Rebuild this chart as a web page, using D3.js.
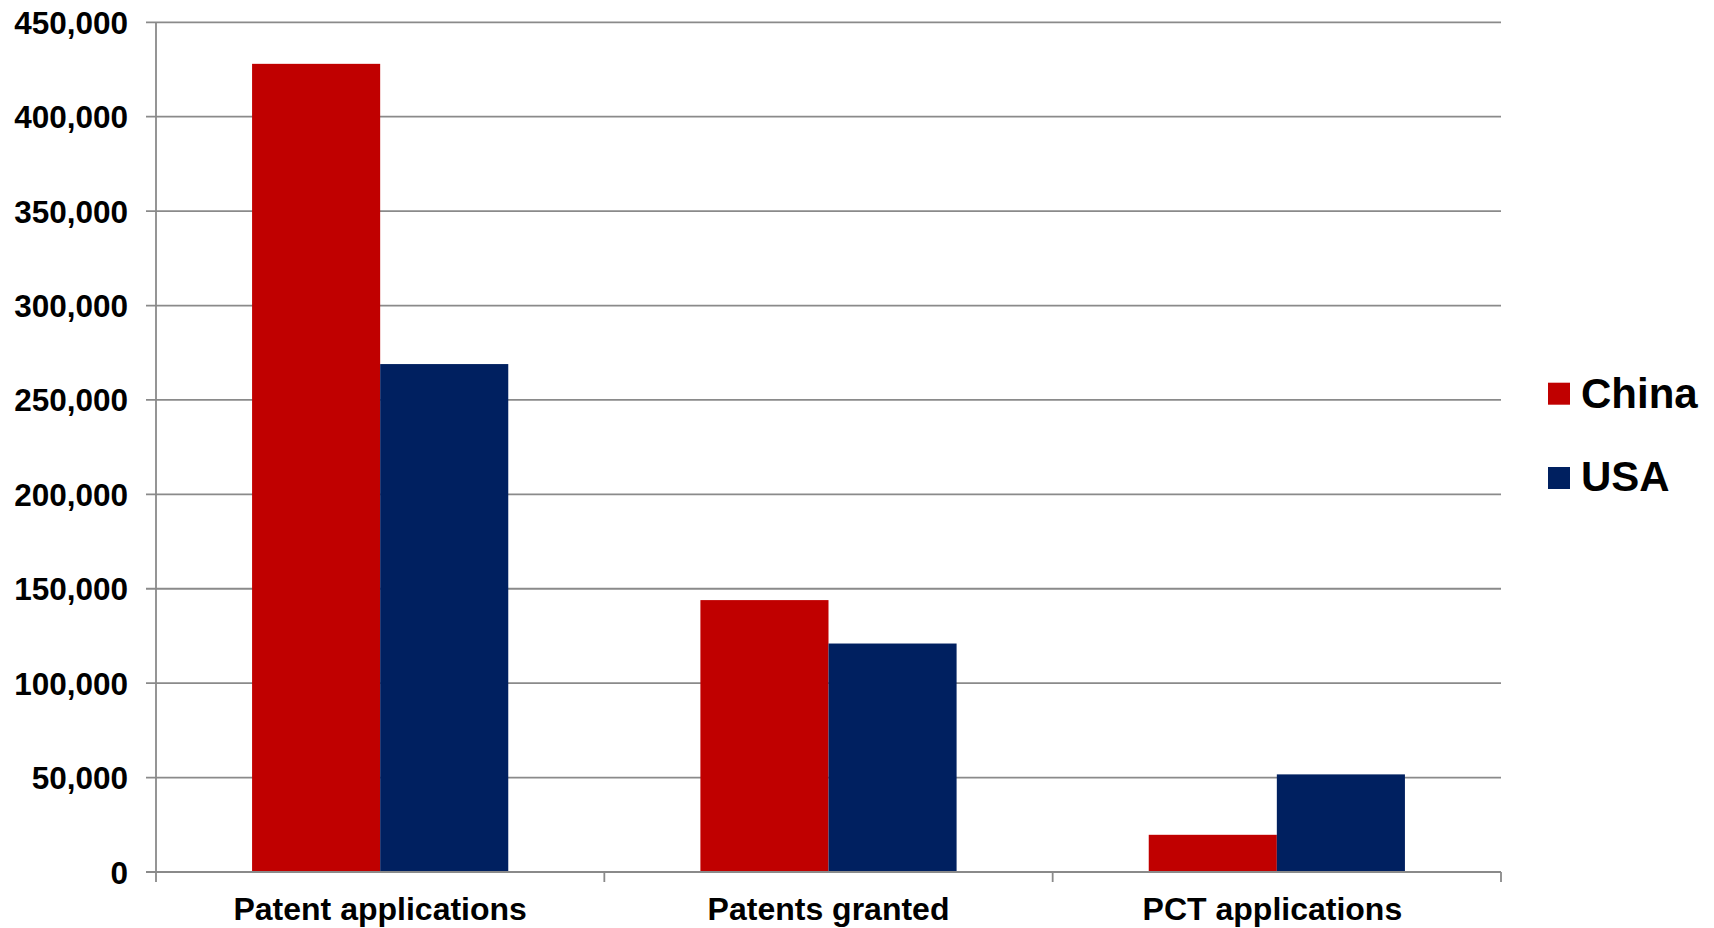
<!DOCTYPE html>
<html>
<head>
<meta charset="utf-8">
<script src="https://cdn.jsdelivr.net/npm/d3@7/dist/d3.min.js"></script>
<style>
  html, body { margin: 0; padding: 0; background: #ffffff; }
  svg { display: block; }
  text { font-family: "Liberation Sans", Arial, Helvetica, sans-serif; font-weight: bold; fill: #000; }
  .cat-label { white-space: pre; }
</style>
</head>
<body>
<svg id="chart" width="1714" height="928"></svg>
<script>
// Patent activity, China vs USA
const categories = ["Patent applications", "Patents granted", "PCT applications "];
const seriesNames = ["China", "USA"];
const chinaValues = [428000, 144000, 19700];
const usaValues = [269000, 121000, 51700];
const yTicks = [0, 50000, 100000, 150000, 200000, 250000, 300000, 350000, 400000, 450000];
const seriesColors = ["#C00000", "#002060"];

const seriesValues = [chinaValues, usaValues];
const rows = categories.map((c, i) => ({
  category: c,
  values: seriesNames.map((s, j) => ({ series: s, value: seriesValues[j][i] }))
}));

const svg = d3.select("#chart");
const plot = { left: 156, right: 1501, top: 22.3, bottom: 872 };
const tickLen = 10;
const gridColor = "#8a8a8a";

const x0 = d3.scaleBand()
  .domain(categories)
  .range([plot.left, plot.right])
  .paddingInner(0)
  .paddingOuter(0);

// two bars per group, gap equal to 1.5 bar widths
const x1 = d3.scaleBand()
  .domain(seriesNames)
  .range([0, x0.bandwidth()])
  .paddingInner(0)
  .paddingOuter(0.75);

const y = d3.scaleLinear()
  .domain([0, 450000])
  .range([plot.bottom, plot.top]);

const color = d3.scaleOrdinal().domain(seriesNames).range(seriesColors);

// horizontal gridlines, extended left as tick marks
svg.append("g")
  .selectAll("line")
  .data(yTicks)
  .join("line")
  .attr("x1", plot.left - tickLen)
  .attr("x2", plot.right)
  .attr("y1", d => y(d))
  .attr("y2", d => y(d))
  .attr("stroke", gridColor)
  .attr("stroke-width", 1.8);

// y axis labels via d3.axisLeft
const yAxis = d3.axisLeft(y)
  .tickValues(yTicks)
  .tickFormat(d3.format(","))
  .tickSize(0)
  .tickPadding(plot.left - 128);

const yg = svg.append("g")
  .attr("transform", `translate(${plot.left},0)`)
  .call(yAxis);
yg.select(".domain").remove();
yg.selectAll("text")
  .attr("font-size", "31.5px")
  .attr("font-family", "'Liberation Sans', Arial, sans-serif")
  .attr("font-weight", "bold")
  .attr("fill", "#000")
  .attr("dy", "0.35em");

// bars
const groups = svg.append("g")
  .selectAll("g")
  .data(rows)
  .join("g")
  .attr("transform", d => `translate(${x0(d.category)},0)`);

groups.selectAll("rect")
  .data(d => d.values)
  .join("rect")
  .attr("x", d => x1(d.series))
  .attr("width", x1.bandwidth())
  .attr("y", d => y(d.value))
  .attr("height", d => y(0) - y(d.value))
  .attr("fill", d => color(d.series));

// vertical axis line
svg.append("line")
  .attr("x1", plot.left).attr("x2", plot.left)
  .attr("y1", plot.top).attr("y2", plot.bottom + tickLen)
  .attr("stroke", gridColor)
  .attr("stroke-width", 1.8);

// category axis: baseline, boundary ticks and labels
svg.append("line")
  .attr("x1", plot.left - tickLen).attr("x2", plot.right)
  .attr("y1", y(0)).attr("y2", y(0))
  .attr("stroke", gridColor)
  .attr("stroke-width", 1.8);

const boundaries = categories.map(c => x0(c) + x0.bandwidth());
svg.append("g")
  .selectAll("line")
  .data(boundaries)
  .join("line")
  .attr("x1", d => d).attr("x2", d => d)
  .attr("y1", y(0)).attr("y2", y(0) + tickLen)
  .attr("stroke", gridColor)
  .attr("stroke-width", 1.8);

const xAxis = d3.axisBottom(x0).tickSize(0).tickPadding(0);
const xg = svg.append("g")
  .attr("transform", `translate(0,${plot.bottom})`)
  .call(xAxis);
xg.select(".domain").remove();
xg.selectAll("text")
  .attr("class", "cat-label")
  .attr("font-size", "32px")
  .attr("font-family", "'Liberation Sans', Arial, sans-serif")
  .attr("font-weight", "bold")
  .attr("fill", "#000")
  .attr("y", 48)
  .attr("dy", 0);

// legend
const legend = svg.append("g")
  .attr("transform", "translate(1548,382.7)");
const items = legend.selectAll("g")
  .data(seriesNames)
  .join("g")
  .attr("transform", (d, i) => `translate(0,${i * 84.3})`);
items.append("rect")
  .attr("width", 22)
  .attr("height", 22)
  .attr("fill", d => color(d));
items.append("text")
  .attr("x", 33)
  .attr("y", (d, i) => i === 0 ? 25.5 : 23.5)
  .attr("font-size", "42px")
  .text(d => d);
</script>
</body>
</html>
